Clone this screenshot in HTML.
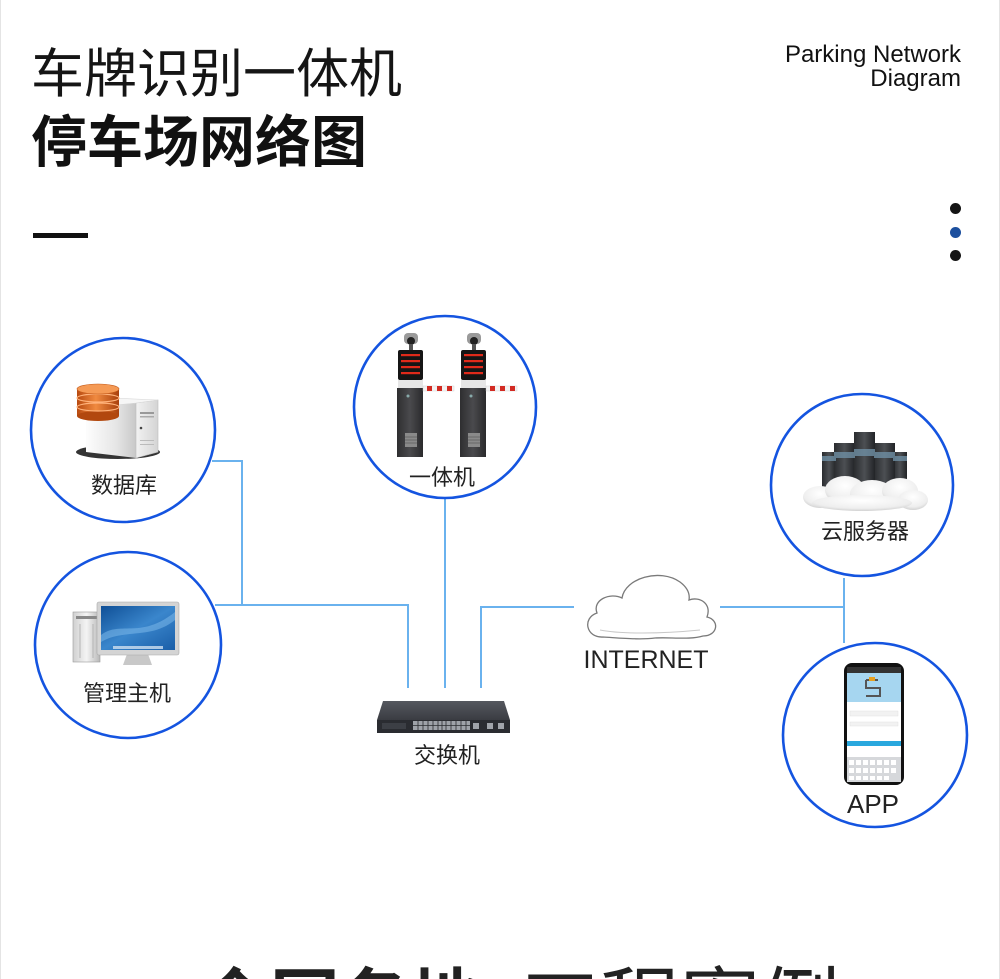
<!DOCTYPE html>
<html>
<head>
<meta charset="utf-8">
<style>
html,body{margin:0;padding:0;background:#fff;width:1000px;height:979px;overflow:hidden;}
body{position:relative;}
.frame{position:absolute;left:0;top:0;width:998px;height:979px;border-left:1px solid #e4e4e4;border-right:1px solid #e4e4e4;}
.t{position:absolute;white-space:nowrap;font-family:"Liberation Sans","Noto Sans CJK SC",sans-serif;color:#111;line-height:1;}
.cjk{font-family:"Liberation Sans","Noto Sans CJK SC",sans-serif;}
.clip{position:absolute;left:0;top:940px;width:1000px;height:39px;overflow:hidden;}
</style>
</head>
<body>
<div class="frame"></div>

<div class="t cjk" style="left:31px;top:48px;font-size:53px;font-weight:400;color:#151515;">车牌识别一体机</div>
<div class="t cjk" style="left:31px;top:115px;font-size:56px;font-weight:700;color:#111;">停车场网络图</div>

<div class="t" style="right:39px;top:43px;font-size:24px;line-height:24px;text-align:right;color:#111;">Parking Network<br>Diagram</div>

<div style="position:absolute;left:33px;top:233px;width:55px;height:5px;background:#111;"></div>

<div style="position:absolute;left:950px;top:203px;width:11px;height:11px;border-radius:50%;background:#151515;"></div>
<div style="position:absolute;left:950px;top:227px;width:11px;height:11px;border-radius:50%;background:#1c4f9e;"></div>
<div style="position:absolute;left:950px;top:250px;width:11px;height:11px;border-radius:50%;background:#151515;"></div>

<svg width="1000" height="979" viewBox="0 0 1000 979" style="position:absolute;left:0;top:0;">
<defs>
  <linearGradient id="srvSide" x1="0" y1="0" x2="1" y2="0">
    <stop offset="0" stop-color="#fdfdfd"/><stop offset="0.6" stop-color="#e6e6e6"/><stop offset="1" stop-color="#c8c8c8"/>
  </linearGradient>
  <linearGradient id="srvFront" x1="0" y1="0" x2="1" y2="0">
    <stop offset="0" stop-color="#f2f2f2"/><stop offset="1" stop-color="#d4d4d4"/>
  </linearGradient>
  <linearGradient id="disk" x1="0" y1="0" x2="1" y2="0">
    <stop offset="0" stop-color="#b84a10"/><stop offset="0.45" stop-color="#f08a40"/><stop offset="1" stop-color="#a8400c"/>
  </linearGradient>
  <linearGradient id="screen" x1="0" y1="0" x2="1" y2="1">
    <stop offset="0" stop-color="#0f4f96"/><stop offset="0.5" stop-color="#3a86cc"/><stop offset="1" stop-color="#1a5ea8"/>
  </linearGradient>
  <linearGradient id="silver" x1="0" y1="0" x2="1" y2="0">
    <stop offset="0" stop-color="#d0d0d0"/><stop offset="0.5" stop-color="#f4f4f4"/><stop offset="1" stop-color="#b8b8b8"/>
  </linearGradient>
  <linearGradient id="gateBody" x1="0" y1="0" x2="1" y2="0">
    <stop offset="0" stop-color="#2e2e30"/><stop offset="0.5" stop-color="#4a4a4d"/><stop offset="1" stop-color="#2a2a2c"/>
  </linearGradient>
  <linearGradient id="bld" x1="0" y1="0" x2="1" y2="0">
    <stop offset="0" stop-color="#2a2c2f"/><stop offset="0.5" stop-color="#4c4f53"/><stop offset="1" stop-color="#222427"/>
  </linearGradient>
  <radialGradient id="cloudG" cx="0.5" cy="0.35" r="0.7">
    <stop offset="0" stop-color="#ffffff"/><stop offset="0.7" stop-color="#eeeeee"/><stop offset="1" stop-color="#c9c9c9"/>
  </radialGradient>
  <linearGradient id="swTop" x1="0" y1="0" x2="0" y2="1">
    <stop offset="0" stop-color="#55585f"/><stop offset="1" stop-color="#3a3c42"/>
  </linearGradient>
</defs>

<!-- connectors -->
<g fill="none" stroke="#6ab2ee" stroke-width="2">
  <path d="M212 461 H242 V605"/>
  <path d="M215 605 H408 V688"/>
  <path d="M445 498 V688"/>
  <path d="M481 688 V607 H574"/>
  <path d="M720 607 H844"/>
  <path d="M844 578 V643"/>
</g>

<!-- circles -->
<g fill="#fff" stroke="#1454e0" stroke-width="2.6">
  <circle cx="123" cy="430" r="92"/>
  <circle cx="128" cy="645" r="93"/>
  <circle cx="445" cy="407" r="91"/>
  <circle cx="862" cy="485" r="91"/>
  <circle cx="875" cy="735" r="92"/>
</g>

<!-- database icon -->
<g>
  <ellipse cx="118" cy="452" rx="42" ry="7" fill="#111" opacity="0.85"/>
  <polygon points="86,408 136,403 136,458 86,452" fill="url(#srvSide)"/>
  <polygon points="136,403 158,400 158,452 136,458" fill="url(#srvFront)" stroke="#bcbcbc" stroke-width="0.6"/>
  <polygon points="86,408 112,398 158,400 136,403" fill="#f6f6f6" stroke="#d8d8d8" stroke-width="0.6"/>
  <rect x="140" y="412" width="14" height="2" fill="#999"/>
  <rect x="140" y="416" width="14" height="1.5" fill="#aaa"/>
  <circle cx="141" cy="428" r="1.3" fill="#444"/>
  <rect x="140" y="440" width="14" height="1" fill="#bbb"/>
  <rect x="140" y="444" width="14" height="1" fill="#bbb"/>
  <rect x="77" y="389" width="42" height="27" fill="url(#disk)"/>
  <ellipse cx="98" cy="416" rx="21" ry="5" fill="#b2480e"/>
  <ellipse cx="98" cy="407" rx="21" ry="4" fill="none" stroke="#ffb27a" stroke-width="1.2"/>
  <ellipse cx="98" cy="398" rx="21" ry="4" fill="none" stroke="#ffb27a" stroke-width="1.2"/>
  <ellipse cx="98" cy="389" rx="21" ry="5" fill="#f59a55" stroke="#c45a1a" stroke-width="0.6"/>
</g>
<text x="124" y="493" text-anchor="middle" font-family="Liberation Sans, Noto Sans CJK SC, sans-serif" font-size="22" fill="#222">数据库</text>

<!-- PC icon -->
<g>
  <rect x="73" y="612" width="27" height="50" fill="url(#silver)" stroke="#999" stroke-width="0.6"/>
  <rect x="76" y="616" width="21" height="3" fill="#888"/>
  <line x1="80" y1="624" x2="80" y2="658" stroke="#aaa" stroke-width="0.8"/>
  <line x1="93" y1="624" x2="93" y2="658" stroke="#aaa" stroke-width="0.8"/>
  <polygon points="127,654 148,654 152,665 123,665" fill="#c8c8c8"/>
  <rect x="97" y="602" width="82" height="53" rx="2" fill="#d4d4d4" stroke="#a8a8a8" stroke-width="0.6"/>
  <rect x="101" y="606" width="74" height="44" fill="url(#screen)"/>
  <path d="M101 635 C120 620 140 640 175 612 L175 620 C150 640 125 628 101 642 Z" fill="#7cb8ea" opacity="0.55"/>
  <rect x="113" y="646" width="50" height="3" fill="#d0e0f0" opacity="0.8"/>
</g>
<text x="127" y="701" text-anchor="middle" font-family="Liberation Sans, Noto Sans CJK SC, sans-serif" font-size="22" fill="#222">管理主机</text>

<!-- gate icons -->
<g id="gate1">
  <rect x="404" y="333" width="14" height="11" rx="4" fill="#9a9a9a"/>
  <circle cx="411" cy="341" r="4" fill="#222"/>
  <rect x="409" y="344" width="4" height="6" fill="#555"/>
  <rect x="398" y="350" width="25" height="30" rx="2" fill="#151515"/>
  <g fill="#e02a1a">
    <rect x="401" y="354" width="19" height="2.2"/>
    <rect x="401" y="360" width="19" height="2.2"/>
    <rect x="401" y="366" width="19" height="2.2"/>
    <rect x="401" y="372" width="19" height="2.2"/>
  </g>
  <rect x="398" y="380" width="25" height="8" fill="#e6e6e6"/>
  <rect x="397" y="388" width="26" height="69" fill="url(#gateBody)"/>
  <circle cx="408" cy="396" r="1.5" fill="#8aa"/>
  <rect x="405" y="433" width="12" height="14" fill="#8a8a8a"/>
  <g stroke="#5a5a5a" stroke-width="0.7"><line x1="405" y1="437" x2="417" y2="437"/><line x1="405" y1="440" x2="417" y2="440"/><line x1="405" y1="443" x2="417" y2="443"/></g>
  <rect x="423" y="386" width="31" height="5" fill="#f3f3f3" stroke="#ccc" stroke-width="0.4"/>
  <g fill="#d22a22"><rect x="427" y="386" width="5" height="5"/><rect x="437" y="386" width="5" height="5"/><rect x="447" y="386" width="5" height="5"/></g>
</g>
<use href="#gate1" x="63" y="0"/>
<text x="442" y="485" text-anchor="middle" font-family="Liberation Sans, Noto Sans CJK SC, sans-serif" font-size="22" fill="#222">一体机</text>

<!-- cloud servers -->
<g>
  <rect x="822" y="452" width="14" height="36" fill="url(#bld)"/>
  <rect x="834" y="443" width="21" height="45" fill="url(#bld)"/>
  <rect x="893" y="452" width="14" height="36" fill="url(#bld)"/>
  <rect x="874" y="443" width="21" height="45" fill="url(#bld)"/>
  <rect x="854" y="432" width="21" height="56" fill="url(#bld)"/>
  <g fill="#6f8fa4" opacity="0.8">
    <rect x="822" y="456" width="14" height="5"/>
    <rect x="834" y="452" width="21" height="6"/>
    <rect x="854" y="449" width="21" height="7"/>
    <rect x="874" y="452" width="21" height="6"/>
    <rect x="893" y="456" width="14" height="5"/>
  </g>
  <g fill="url(#cloudG)">
    <ellipse cx="820" cy="497" rx="17" ry="11"/>
    <ellipse cx="845" cy="490" rx="20" ry="14"/>
    <ellipse cx="872" cy="494" rx="22" ry="14"/>
    <ellipse cx="900" cy="491" rx="18" ry="13"/>
    <ellipse cx="913" cy="500" rx="15" ry="10"/>
    <ellipse cx="862" cy="503" rx="50" ry="8"/>
  </g>
</g>
<text x="865" y="539" text-anchor="middle" font-family="Liberation Sans, Noto Sans CJK SC, sans-serif" font-size="22" fill="#222">云服务器</text>

<!-- phone -->
<g>
  <rect x="844" y="663" width="60" height="122" rx="8" fill="#111"/>
  <rect x="847" y="667" width="54" height="115" rx="5" fill="#fff"/>
  <rect x="847" y="667" width="54" height="6" fill="#333"/>
  <rect x="847" y="673" width="54" height="29" fill="#a6d6f0"/>
  <path d="M866 680 H878 M866 680 V688 H880 V696 H866" stroke="#555" stroke-width="2" fill="none"/>
  <rect x="869" y="677" width="6" height="4" fill="#e6a020"/>
  <rect x="850" y="711" width="48" height="5" fill="#f2f2f2" stroke="#ddd" stroke-width="0.4"/>
  <rect x="850" y="722" width="48" height="4" fill="#f2f2f2" stroke="#ddd" stroke-width="0.4"/>
  <rect x="847" y="741" width="54" height="5" fill="#2aa8de"/>
  <rect x="847" y="757" width="54" height="25" fill="#d6d8db"/>
  <g fill="#fff">
    <rect x="849" y="760" width="5" height="5"/><rect x="856" y="760" width="5" height="5"/><rect x="863" y="760" width="5" height="5"/><rect x="870" y="760" width="5" height="5"/><rect x="877" y="760" width="5" height="5"/><rect x="884" y="760" width="5" height="5"/><rect x="891" y="760" width="5" height="5"/>
    <rect x="849" y="768" width="5" height="5"/><rect x="856" y="768" width="5" height="5"/><rect x="863" y="768" width="5" height="5"/><rect x="870" y="768" width="5" height="5"/><rect x="877" y="768" width="5" height="5"/><rect x="884" y="768" width="5" height="5"/><rect x="891" y="768" width="5" height="5"/>
    <rect x="849" y="776" width="5" height="4"/><rect x="856" y="776" width="5" height="4"/><rect x="863" y="776" width="5" height="4"/><rect x="870" y="776" width="5" height="4"/><rect x="877" y="776" width="5" height="4"/><rect x="884" y="776" width="5" height="4"/>
  </g>
</g>
<text x="873" y="813" text-anchor="middle" font-family="Liberation Sans, sans-serif" font-size="26" fill="#222">APP</text>

<!-- internet cloud -->
<path d="M603 637 C586 638 582 618 597 613 C592 600 610 592 622 598 C625 578 660 568 680 582 C688 588 690 594 689 600 C700 596 712 604 707 617 C720 620 718 636 703 636 C690 640 670 637 655 638 C640 640 620 638 603 637 Z" fill="#fff" stroke="#7a7a7a" stroke-width="1.3"/>
<path d="M600 630 C620 634 660 634 700 630" fill="none" stroke="#c8c8c8" stroke-width="1"/>
<text x="646" y="668" text-anchor="middle" font-family="Liberation Sans, sans-serif" font-size="25" fill="#222">INTERNET</text>

<!-- switch -->
<g>
  <polygon points="383,701 504,701 510,720 377,720" fill="url(#swTop)"/>
  <rect x="377" y="720" width="133" height="13" fill="#2a2c31"/>
  <rect x="382" y="723" width="24" height="6" fill="#3c3f45"/>
  <rect x="413" y="721" width="57" height="9" fill="#9ea2a8"/>
  <g stroke="#2a2c31" stroke-width="0.8">
    <line x1="413" y1="725.5" x2="470" y2="725.5"/>
    <line x1="418" y1="721" x2="418" y2="730"/><line x1="423" y1="721" x2="423" y2="730"/><line x1="428" y1="721" x2="428" y2="730"/><line x1="433" y1="721" x2="433" y2="730"/><line x1="438" y1="721" x2="438" y2="730"/><line x1="442" y1="721" x2="442" y2="730"/><line x1="446" y1="721" x2="446" y2="730"/><line x1="451" y1="721" x2="451" y2="730"/><line x1="456" y1="721" x2="456" y2="730"/><line x1="461" y1="721" x2="461" y2="730"/><line x1="466" y1="721" x2="466" y2="730"/>
  </g>
  <g fill="#a0a4aa"><rect x="473" y="723" width="6" height="6"/><rect x="487" y="723" width="6" height="6"/><rect x="498" y="723" width="6" height="6"/></g>
</g>
<text x="447" y="763" text-anchor="middle" font-family="Liberation Sans, Noto Sans CJK SC, sans-serif" font-size="22" fill="#222">交换机</text>
</svg>

<div class="clip">
  <div class="t cjk" style="left:200px;top:27px;font-size:70px;font-weight:700;color:#222;">全国各地</div>
  <div class="t cjk" style="left:520px;top:26px;font-size:80px;font-weight:400;color:#222;">工程案例</div>
</div>
</body>
</html>
